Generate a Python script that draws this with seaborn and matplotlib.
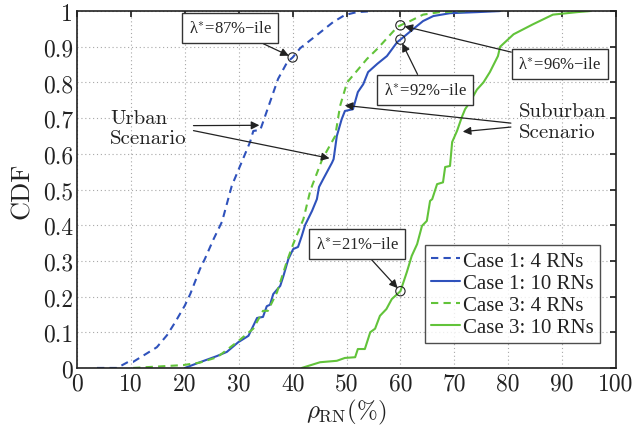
import matplotlib
matplotlib.use("Agg")
import matplotlib.pyplot as plt
import seaborn as sns
import pandas as pd

# ---- data ----
c1_4_x = [3.7, 7.4, 9.5, 10.4, 14.8, 16.7, 18.2, 20.0, 21.0, 22.8, 23.7, 25.3, 26.9, 28.7, 32.1, 32.7, 34.0, 34.9,
          35.8, 37.3, 39.0, 40.0, 41.4, 45.1, 47.5, 49.7, 51.9, 55.0]
c1_4_y = [0.0, 0.0, 0.017, 0.017, 0.058, 0.092, 0.128, 0.175, 0.207, 0.277, 0.305, 0.36, 0.41, 0.51, 0.633, 0.664,
          0.667, 0.706, 0.745, 0.81, 0.857, 0.87, 0.896, 0.94, 0.969, 0.989, 0.997, 1.0]

c1_10_x = [20.0, 22.8, 25.9, 27.8, 29.9, 31.8, 33.4, 34.5, 35.2, 35.8, 36.4, 37.7, 38.3, 39.2, 40.1, 41.0, 41.7,
           42.3, 43.6, 44.5, 44.9, 45.7, 47.3, 47.6, 48.2, 49.1, 49.7, 51.2, 52.1, 53.1, 54.0, 55.7, 57.5, 59.4,
           60.0, 62.4, 64.2, 66.1, 69.2, 74.2, 78.5]
c1_10_y = [0.0, 0.016, 0.033, 0.045, 0.072, 0.09, 0.14, 0.143, 0.173, 0.177, 0.207, 0.23, 0.258, 0.305, 0.333,
           0.339, 0.37, 0.40, 0.44, 0.473, 0.507, 0.53, 0.575, 0.585, 0.65, 0.697, 0.72, 0.725, 0.773, 0.795,
           0.829, 0.852, 0.874, 0.913, 0.92, 0.95, 0.972, 0.986, 0.994, 0.997, 1.0]

c3_4_x = [10.4, 19.7, 22.8, 26.0, 29.9, 32.7, 34.5, 35.4, 37.1, 38.9, 40.1, 42.0, 43.2, 43.6, 45.5, 47.9, 48.8,
          50.1, 51.9, 53.8, 55.7, 57.7, 59.4, 60.0, 61.8, 64.2, 67.3, 72.4]
c3_4_y = [0.0, 0.008, 0.015, 0.03, 0.075, 0.11, 0.16, 0.16, 0.212, 0.297, 0.347, 0.417, 0.492, 0.51, 0.585, 0.65,
          0.734, 0.80, 0.832, 0.866, 0.894, 0.927, 0.955, 0.96, 0.972, 0.99, 0.997, 1.0]

c3_10_x = [41.7, 45.1, 48.2, 49.7, 51.6, 52.1, 53.4, 54.4, 55.3, 56.2, 57.4, 58.4, 60.0, 61.2, 62.1, 63.1, 64.0,
           64.9, 65.5, 65.9, 66.8, 67.9, 68.3, 69.2, 69.6, 70.5, 71.4, 72.0, 72.9, 74.2, 75.4, 76.6, 78.1, 78.5,
           81.0, 84.6, 88.3, 92.8, 95.2]
c3_10_y = [0.0, 0.016, 0.02, 0.028, 0.03, 0.053, 0.053, 0.10, 0.11, 0.146, 0.165, 0.193, 0.215, 0.269, 0.314,
           0.347, 0.398, 0.412, 0.468, 0.473, 0.515, 0.52, 0.563, 0.566, 0.633, 0.664, 0.703, 0.725, 0.745, 0.78,
           0.80, 0.829, 0.874, 0.9, 0.935, 0.963, 0.99, 0.997, 1.0]

series_names = ["Case 1: 4 RNs", "Case 1: 10 RNs", "Case 3: 4 RNs", "Case 3: 10 RNs"]

marker_x = [40, 60, 60, 60]
marker_y = [0.87, 0.92, 0.96, 0.215]
marker_labels = ["87", "92", "96", "21"]

x_ticks = [0, 10, 20, 30, 40, 50, 60, 70, 80, 90, 100]
y_ticks = [0, 0.1, 0.2, 0.3, 0.4, 0.5, 0.6, 0.7, 0.8, 0.9, 1]
y_tick_labels = ["0", "0.1", "0.2", "0.3", "0.4", "0.5", "0.6", "0.7", "0.8", "0.9", "1"]

# ---- figure ----
sns.set_theme(style="whitegrid")
plt.rcParams["mathtext.fontset"] = "cm"
plt.rcParams["font.family"] = ["Liberation Serif", "DejaVu Serif"]

BLUE = "#2F52BC"
GREEN = "#62C33A"

fig = plt.figure(figsize=(6.37, 4.31), dpi=100)
ax = fig.add_axes([0.121, 0.144, 0.846, 0.828])

frames = []
for name, xs, ys in zip(series_names, [c1_4_x, c1_10_x, c3_4_x, c3_10_x], [c1_4_y, c1_10_y, c3_4_y, c3_10_y]):
    frames.append(pd.DataFrame({"rho": xs, "cdf": ys, "series": name}))
df = pd.concat(frames, ignore_index=True)

styles = {
    "Case 1: 4 RNs": (BLUE, (0, (3.5, 2.5))),
    "Case 1: 10 RNs": (BLUE, "-"),
    "Case 3: 4 RNs": (GREEN, (0, (3.5, 2.5))),
    "Case 3: 10 RNs": (GREEN, "-"),
}
for name in series_names:
    sub = df[df["series"] == name]
    col, ls = styles[name]
    sns.lineplot(data=sub, x="rho", y="cdf", ax=ax, color=col, linestyle=ls, linewidth=1.5,
                 label=name, sort=False, estimator=None)

# percentile markers
ax.scatter(marker_x, marker_y, s=45, facecolors="none", edgecolors="#222222", linewidths=0.8, zorder=5)

ax.set_xlim(0, 100)
ax.set_ylim(0, 1)
ax.set_xticks(x_ticks)
ax.set_yticks(y_ticks)
ax.set_yticklabels(y_tick_labels)
ax.tick_params(axis="both", which="both", direction="in", length=4, top=True, right=True,
               labelsize=17, colors="#222222", pad=3)
for lab in ax.get_xticklabels() + ax.get_yticklabels():
    lab.set_family("cmr10")
ax.grid(True, color="#a8a8a8", linestyle=(0, (1, 2.5)), linewidth=0.8)
ax.set_facecolor("white")
for sp in ax.spines.values():
    sp.set_color("#222222")
    sp.set_linewidth(1.2)

ax.set_xlabel(r"$\rho_{\mathrm{RN}}(\%)$", fontsize=18, color="#222222", labelpad=2)
ax.set_ylabel("CDF", fontsize=19, color="#222222", family="cmr10", labelpad=6)

# annotation boxes
box = dict(boxstyle="square,pad=0.4", fc="white", ec="#333333", lw=1.0)
arr = dict(arrowstyle="-|>", color="#222222", lw=0.9, mutation_scale=12, shrinkA=0, shrinkB=3)
ax.annotate(r"λ$^{*}$=87%−ile", xy=(marker_x[0], marker_y[0]), xytext=(28.4, 0.952), fontsize=12,
            ha="center", va="center", bbox=box, arrowprops=arr)
ax.annotate(r"λ$^{*}$=92%−ile", xy=(marker_x[1], marker_y[1]), xytext=(64.6, 0.779), fontsize=12,
            ha="center", va="center", bbox=box, arrowprops=arr)
ax.annotate(r"λ$^{*}$=96%−ile", xy=(marker_x[2], marker_y[2]), xytext=(89.6, 0.852), fontsize=12,
            ha="center", va="center", bbox=box, arrowprops=arr)
ax.annotate(r"λ$^{*}$=21%−ile", xy=(marker_x[3], marker_y[3]), xytext=(52.0, 0.347), fontsize=12,
            ha="center", va="center", bbox=box, arrowprops=arr)

# scenario labels
ax.text(6.1, 0.672, "Urban\nScenario", fontsize=15, family="cmr10", ha="left", va="center",
        linespacing=1.2, color="#222222")
ax.annotate("", xy=(34.6, 0.68), xytext=(21.6, 0.679), arrowprops=arr)
ax.annotate("", xy=(47.6, 0.585), xytext=(21.6, 0.665), arrowprops=arr)
ax.text(82.0, 0.69, "Suburban\nScenario", fontsize=15, family="cmr10", ha="left", va="center",
        linespacing=1.2, color="#222222")
ax.annotate("", xy=(48.9, 0.737), xytext=(80.5, 0.686), arrowprops=arr)
ax.annotate("", xy=(70.8, 0.661), xytext=(80.5, 0.675), arrowprops=arr)

leg = ax.legend(loc="lower right", fontsize=15, frameon=True, fancybox=False, handlelength=1.4,
                handletextpad=0.15, borderpad=0.3, labelspacing=0.12, borderaxespad=0.5,
                bbox_to_anchor=(0.99, 0.04))
leg.get_frame().set_edgecolor("#222222")
leg.get_frame().set_linewidth(1.0)
for t in leg.get_texts():
    t.set_color("#222222")

fig.savefig("out.png", dpi=100, facecolor="white")
